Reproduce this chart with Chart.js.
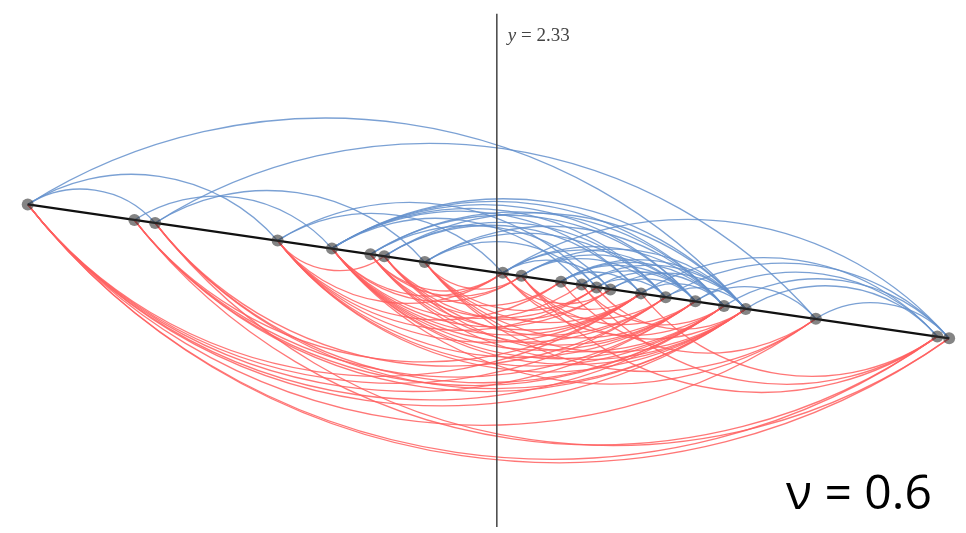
<!DOCTYPE html>
<html>
<head>
<meta charset="utf-8">
<script src="https://cdn.jsdelivr.net/npm/chart.js@4.4.1/dist/chart.umd.min.js"></script>
<style>
  html, body { margin: 0; padding: 0; background: #fff; }
  #wrap { width: 966px; height: 533px; }
</style>
</head>
<body>
<div id="wrap"><canvas id="arcChart" width="966" height="533"></canvas></div>
<script>
// node positions (pixel-like units)
const nodeX = [22, 130, 151, 275, 330, 369, 383, 424, 503, 522, 562, 583, 598, 612, 643, 668, 698, 727, 749, 820, 943, 955];
const nodeY = [203, 219, 222, 240, 248, 254, 256, 262, 273, 276, 282, 285, 288, 290, 294, 298, 302, 307, 310, 320, 338, 340];

// links drawn above the line (blue) and below it (red), as node index pairs
const blueLinks = [
  [0, 18], [0, 2], [0, 3], [1, 4], [2, 19], [2, 7], [3, 12], [3, 8],
  [4, 14], [4, 15], [4, 16], [4, 17], [4, 18], [4, 11],
  [5, 13], [5, 16], [5, 17], [6, 14], [6, 15], [6, 18], [7, 12], [7, 15], [7, 17],
  [8, 13], [8, 16], [8, 17], [8, 21], [9, 15], [9, 16], [9, 18],
  [10, 14], [10, 17], [10, 16], [10, 18], [11, 16], [11, 18], [12, 15], [12, 17],
  [13, 16], [13, 18], [14, 17], [14, 20], [15, 18], [16, 19], [16, 20],
  [17, 21], [18, 20], [19, 21], [15, 21]
];
const redLinks = [
  [0, 14], [0, 15], [0, 16], [0, 17], [0, 18], [0, 19], [0, 20], [0, 21],
  [1, 14], [1, 16], [1, 17], [1, 18], [1, 20],
  [2, 15], [2, 17], [2, 18], [2, 21],
  [3, 6], [3, 8], [3, 10], [3, 12], [3, 14], [3, 16], [3, 17], [3, 18],
  [4, 8], [4, 9], [4, 11], [4, 13], [4, 14], [4, 15], [4, 16], [4, 17], [4, 18], [4, 19],
  [5, 8], [5, 9], [5, 12], [5, 14], [5, 16], [5, 18],
  [6, 10], [6, 13], [6, 15], [6, 17],
  [7, 9], [7, 12], [7, 14], [7, 16], [7, 18], [7, 19],
  [8, 13], [8, 15], [8, 17],
  [9, 14], [9, 16], [9, 18], [9, 20],
  [10, 19], [11, 17], [11, 20], [12, 18], [14, 20]
];

// vertical marker
const markerX = 497;
const markerTop = 8;
const markerBottom = 533;
const markerLabel = 'y = 2.33';
const paramLabel = 'ν = 0.6';

const nodes = nodeX.map((x, i) => ({ x: x, y: nodeY[i] }));
const last = nodes.length - 1;

// draws every link as a circular arc between its two nodes
const arcPlugin = {
  id: 'arcs',
  beforeDatasetsDraw(chart) {
    const ctx = chart.ctx;
    const xs = chart.scales.x, ys = chart.scales.y;
    function drawSet(links, color, ratio, down) {
      ctx.save();
      ctx.strokeStyle = color;
      ctx.lineWidth = 1.3;
      links.forEach(([a, b]) => {
        const px = xs.getPixelForValue(nodeX[a]), py = ys.getPixelForValue(nodeY[a]);
        const qx = xs.getPixelForValue(nodeX[b]), qy = ys.getPixelForValue(nodeY[b]);
        const dx = qx - px, dy = qy - py;
        const c = Math.hypot(dx, dy);
        // unit normal pointing to the bulge side
        let nx = dy / c, ny = -dx / c;
        if (down) { nx = -nx; ny = -ny; }
        const s = ratio * c;
        const R = (c * c / 4 + s * s) / (2 * s);
        const mx = (px + qx) / 2, my = (py + qy) / 2;
        const cx = mx - nx * (R - s), cy = my - ny * (R - s);
        const a1 = Math.atan2(py - cy, px - cx);
        const a2 = Math.atan2(qy - cy, qx - cx);
        ctx.beginPath();
        ctx.arc(cx, cy, R, a1, a2, down);
        ctx.stroke();
      });
      ctx.restore();
    }
    drawSet(redLinks, 'rgba(255, 95, 95, 0.85)', 0.2, true);
    drawSet(blueLinks, 'rgba(100, 145, 205, 0.85)', 0.185, false);
  },
  afterDraw(chart) {
    const ctx = chart.ctx;
    const xs = chart.scales.x, ys = chart.scales.y;
    ctx.save();
    ctx.fillStyle = '#444';
    ctx.textBaseline = 'alphabetic';
    const lx = xs.getPixelForValue(markerX) + 11;
    const ly = ys.getPixelForValue(markerTop) + 27;
    ctx.font = 'italic 19px "Liberation Serif"';
    ctx.fillText('y', lx, ly);
    const w = ctx.measureText('y').width;
    ctx.font = '19px "Liberation Serif"';
    ctx.fillText(markerLabel.slice(1), lx + w, ly);
    ctx.fillStyle = '#000';
    ctx.font = '48px "Open Sans"';
    ctx.fillText(paramLabel, 786, 509);
    ctx.restore();
  }
};

new Chart(document.getElementById('arcChart'), {
  type: 'scatter',
  data: {
    datasets: [
      {
        data: nodes,
        pointRadius: 6,
        pointBackgroundColor: 'rgba(50, 50, 50, 0.6)',
        pointBorderWidth: 0,
        showLine: false,
        order: 1
      },
      {
        data: [nodes[0], nodes[last]],
        showLine: true,
        borderColor: '#111',
        borderWidth: 2.2,
        pointRadius: 0,
        order: 2
      },
      {
        data: [{ x: markerX, y: markerTop }, { x: markerX, y: markerBottom }],
        showLine: true,
        borderColor: '#444',
        borderWidth: 1.5,
        pointRadius: 0,
        order: 3
      }
    ]
  },
  options: {
    responsive: false,
    animation: false,
    layout: { padding: 0 },
    plugins: { legend: { display: false }, tooltip: { enabled: false } },
    scales: {
      x: { type: 'linear', min: 0, max: 966, display: false },
      y: { type: 'linear', min: 0, max: 533, reverse: true, display: false }
    }
  },
  plugins: [arcPlugin]
});
</script>
</body>
</html>
